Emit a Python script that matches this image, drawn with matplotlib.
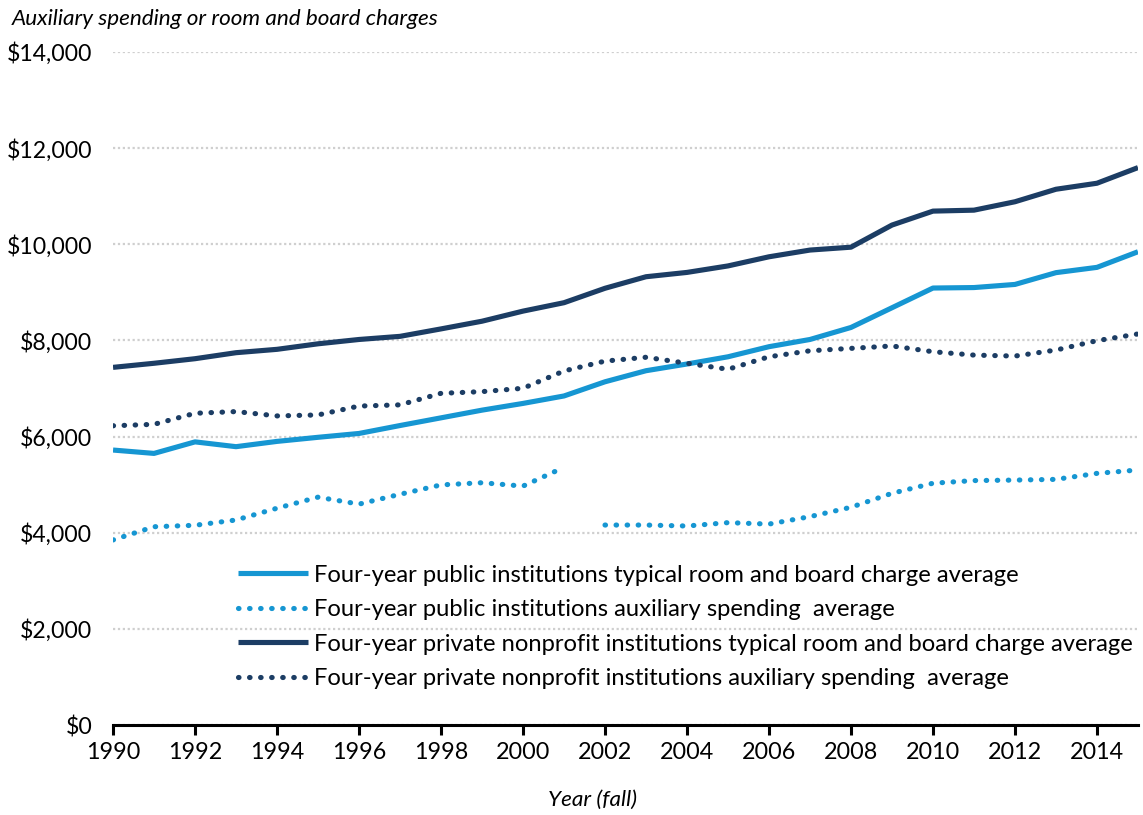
"""Auxiliary spending vs. room and board charges, four-year institutions."""

import matplotlib

matplotlib.use("Agg")
from matplotlib import pyplot as plt
from matplotlib.ticker import FuncFormatter

years = list(range(1990, 2016))

public_room_board = [
    5720, 5650, 5890, 5790, 5900, 5985, 6065, 6230, 6390, 6550, 6690, 6845,
    7140, 7370, 7510, 7660, 7870, 8020, 8270, 8680, 9090, 9100, 9165, 9410,
    9520, 9845,
]
private_room_board = [
    7440, 7525, 7620, 7745, 7815, 7930, 8020, 8085, 8240, 8400, 8610, 8785,
    9085, 9325, 9415, 9550, 9740, 9880, 9940, 10400, 10690, 10710, 10885,
    11145, 11270, 11595,
]
private_aux = [
    6225, 6255, 6485, 6520, 6430, 6450, 6635, 6660, 6900, 6935, 7005, 7365,
    7570, 7650, 7525, 7400, 7660, 7785, 7835, 7885, 7765, 7695, 7675, 7800,
    7995, 8135,
]
# public auxiliary spending series breaks between 2001 and 2002
public_aux_years_a = list(range(1990, 2002))
public_aux_a = [
    3850, 4125, 4155, 4265, 4510, 4740, 4595, 4800, 4995, 5040, 4970, 5360,
]
public_aux_years_b = list(range(2002, 2016))
public_aux_b = [
    4160, 4160, 4140, 4210, 4180, 4335, 4530, 4820, 5030, 5085, 5095, 5110,
    5235, 5305,
]

labels = [
    "Four-year public institutions typical room and board charge average",
    "Four-year public institutions auxiliary spending  average",
    "Four-year private nonprofit institutions typical room and board charge average",
    "Four-year private nonprofit institutions auxiliary spending  average",
]

LIGHT = "#1696d2"
DARK = "#1c3d64"

plt.rcParams["font.family"] = ["Lato", "DejaVu Sans"]

fig = plt.figure(figsize=(11.43, 8.15), dpi=100)
ax = fig.add_axes([0.0989, 0.1104, 0.8967, 0.8258])

solid = dict(linewidth=3.7, solid_capstyle="butt")
dotted = dict(linewidth=3.7, linestyle=(0, (0.1, 2.05)), dash_capstyle="round")

ax.plot(years, public_room_board, color=LIGHT, label=labels[0], **solid)
ax.plot(public_aux_years_a, public_aux_a, color=LIGHT, label=labels[1], **dotted)
ax.plot(public_aux_years_b, public_aux_b, color=LIGHT, **dotted)
ax.plot(years, private_room_board, color=DARK, label=labels[2], **solid)
ax.plot(years, private_aux, color=DARK, label=labels[3], **dotted)

ax.set_xlim(1990, 2015)
ax.set_ylim(0, 14000)
ax.set_xticks(range(1990, 2015, 2))
ax.set_yticks(range(0, 14001, 2000))
ax.yaxis.set_major_formatter(FuncFormatter(lambda v, _: f"${v:,.0f}"))

ax.grid(axis="y", color="#cfcfcf", linestyle=(0, (1, 1.2)), linewidth=1.6)
ax.set_axisbelow(True)
for side in ("left", "right", "top"):
    ax.spines[side].set_visible(False)
ax.spines["bottom"].set_linewidth(2.2)
ax.spines["bottom"].set_zorder(5)
ax.tick_params(axis="x", direction="out", length=7, width=2.2,
               labelsize=16.8, pad=5)
ax.tick_params(axis="y", length=0, labelsize=16.6, pad=15)

fig.text(0.0105, 0.977, "Auxiliary spending or room and board charges",
         fontsize=16.2, style="italic", ha="left", va="center")
fig.text(0.518, 0.018, "Year (fall)", fontsize=16.2, style="italic",
         ha="center", va="center")

leg = ax.legend(loc="upper left", bbox_to_anchor=(0.122, 0.2385),
                frameon=False, fontsize=17.1, handlelength=2.95,
                handletextpad=0.26, labelspacing=0.57, borderpad=0,
                borderaxespad=0)

fig.savefig("out.png", dpi=100)
